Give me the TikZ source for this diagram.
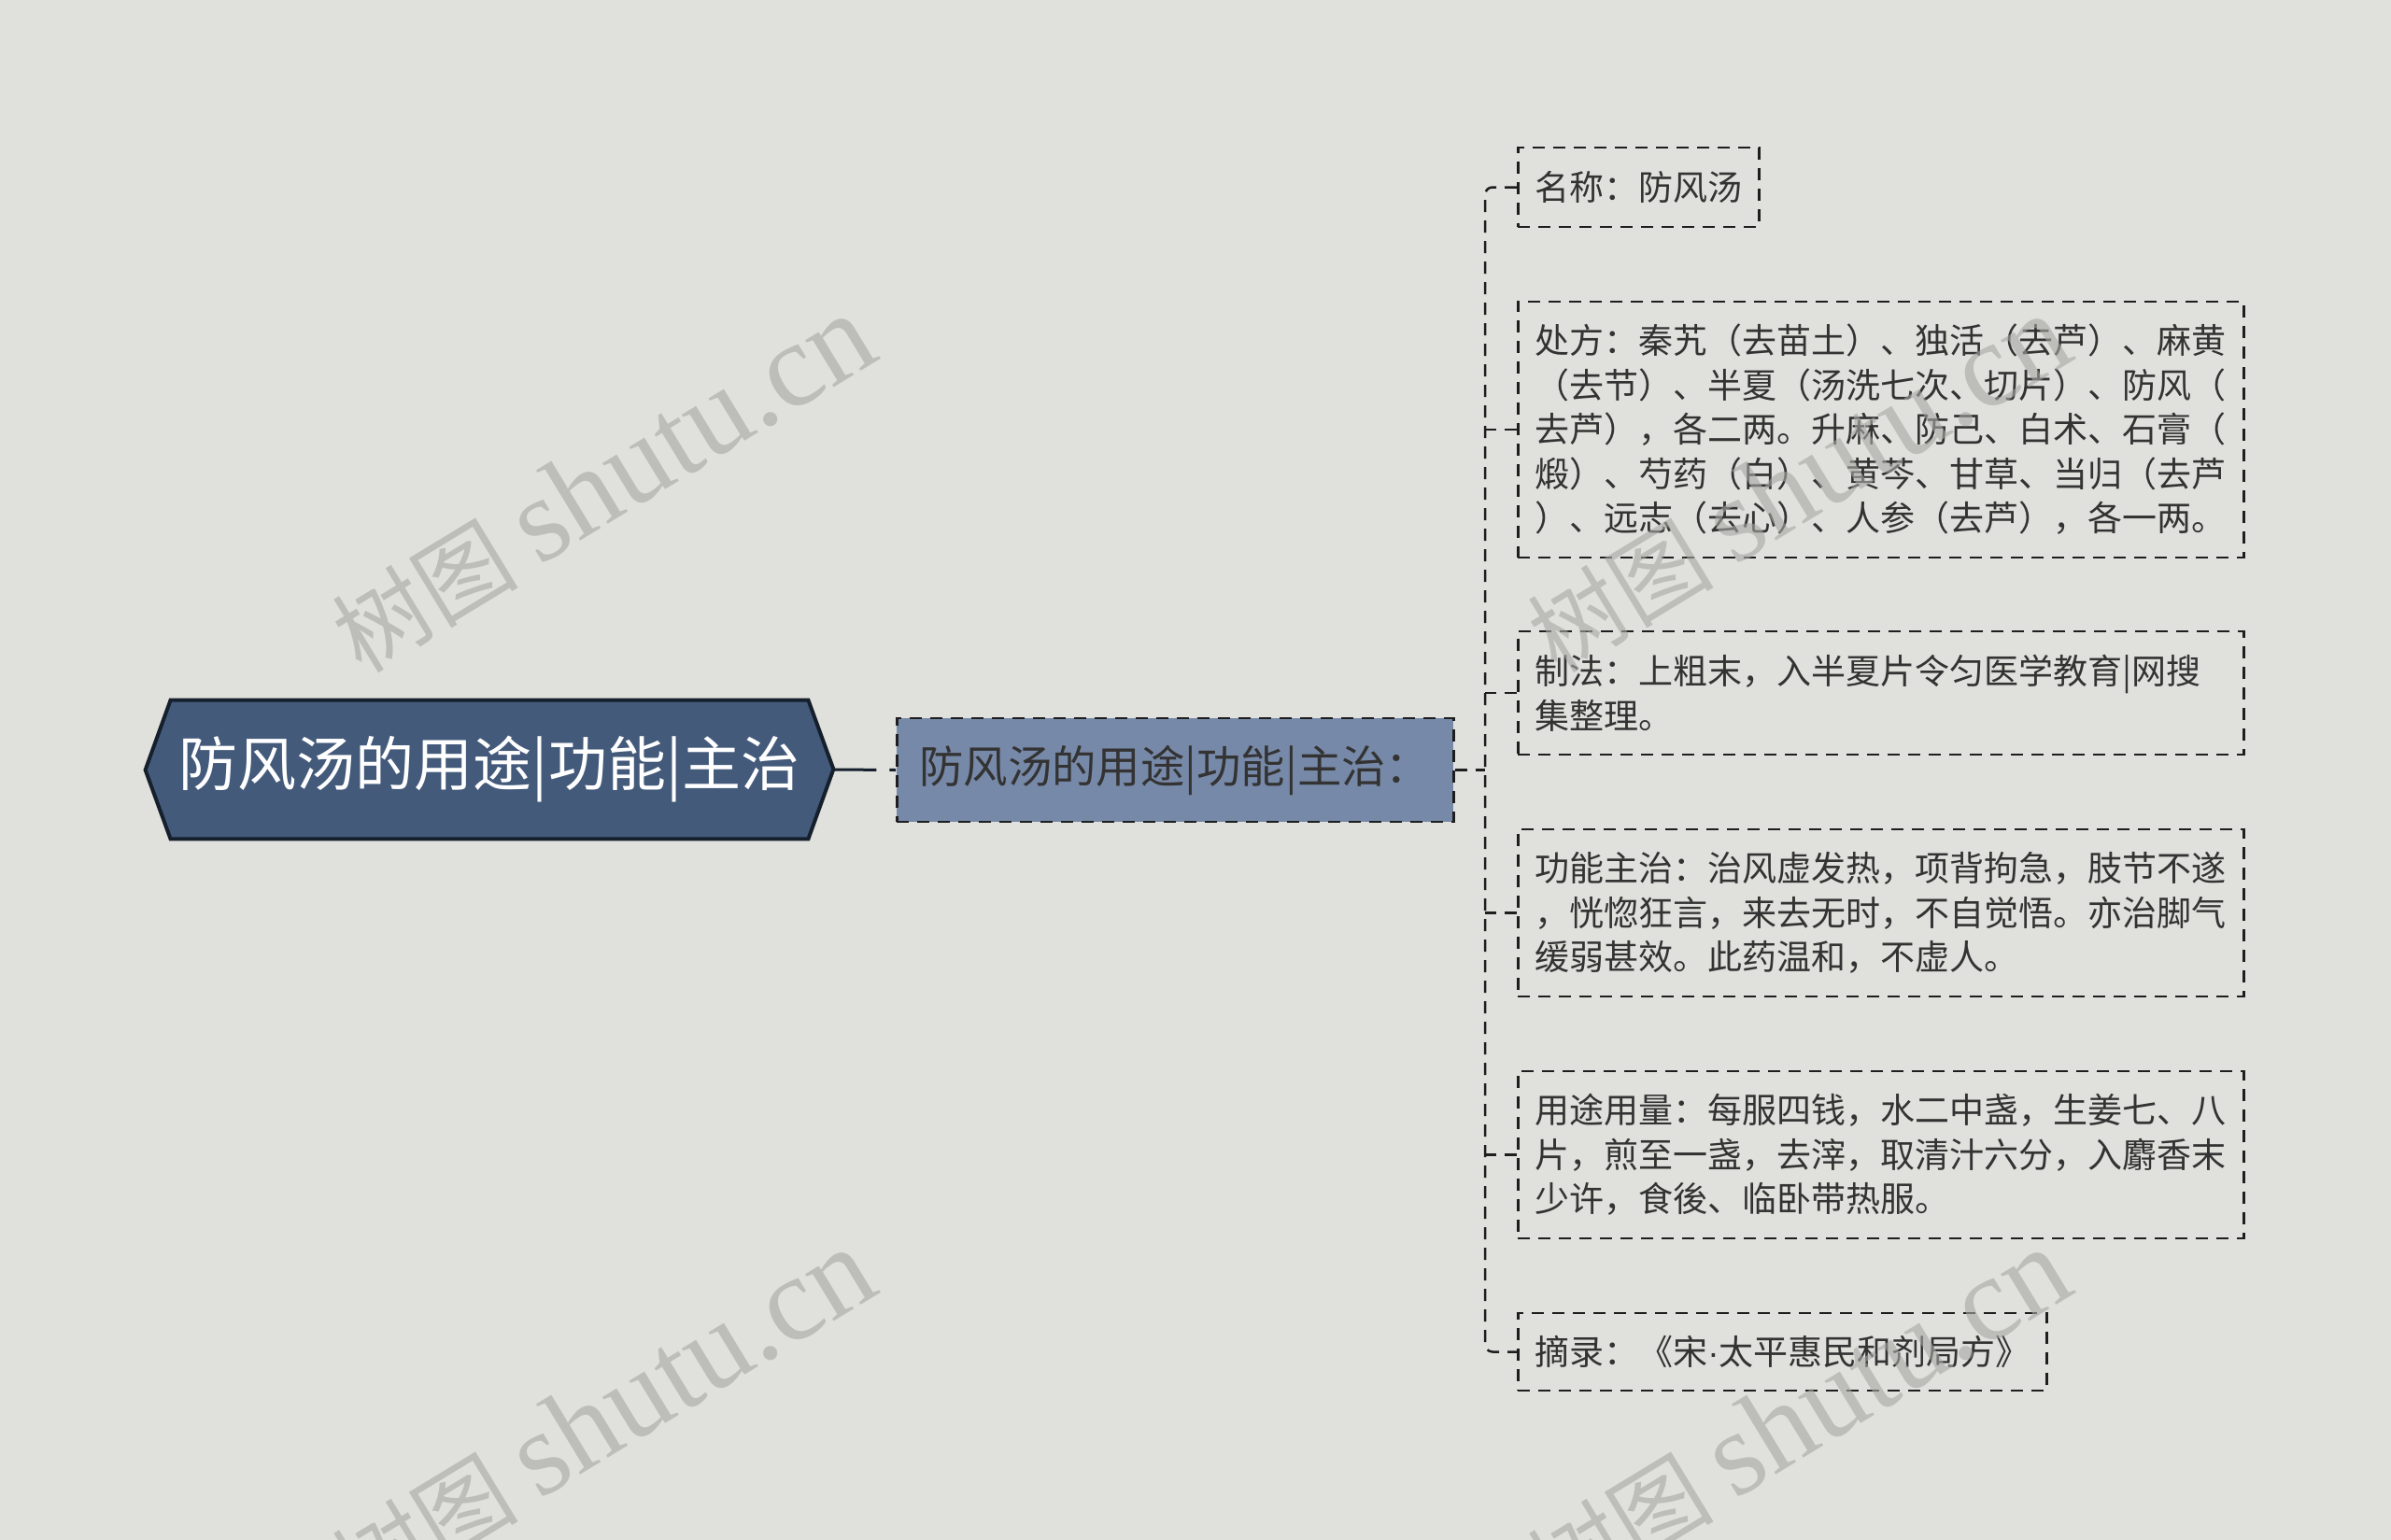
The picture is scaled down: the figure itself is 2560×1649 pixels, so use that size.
\documentclass[tikz,border=0pt]{standalone}
\usepackage{fontspec}
\setmainfont{Noto Sans CJK SC}
\newfontfamily\wmlat{Liberation Serif}
\newfontfamily\latsans{Liberation Sans}
\definecolor{bgc}{HTML}{E0E1DC}
\definecolor{rootfill}{HTML}{435A7B}
\definecolor{rootline}{HTML}{16202D}
\definecolor{childfill}{HTML}{7789A8}
\definecolor{linec}{HTML}{1E1E1E}
\definecolor{txt}{HTML}{333333}
\definecolor{wm}{HTML}{A7A8A3}
\pgfdeclarelayer{bglayer}
\pgfsetlayers{bglayer,main}
\begin{document}
\begin{tikzpicture}[x=0.5pt,y=-0.5pt,
 conn/.style={draw=linec, line width=1.25pt, dash pattern=on 6.5pt off 4.5pt},
 leaf/.style={draw=linec, line width=1.25pt, dash pattern=on 6.5pt off 4.5pt, anchor=west,
   inner xsep=9pt, inner ysep=0pt, align=left, text=txt,
   font=\fontsize{18.5pt}{23.75pt}\selectfont},
 wide/.style={text width=370.5pt},
 rootbox/.style={minimum width=341pt, minimum height=74pt, inner sep=0pt, text=white,
   font=\fontsize{31.5pt}{36pt}\selectfont},
 childbox/.style={draw=linec, line width=1.25pt, dash pattern=on 6.5pt off 4.5pt,
   fill=childfill, anchor=west, minimum height=55.5pt, text width=274pt, inner xsep=12pt,
   inner ysep=0pt, align=left, text=txt, font=\fontsize{23.7pt}{26pt}\selectfont},
 wmark/.style={text=wm, text opacity=0.6, rotate=31.3, inner sep=0pt,
   font=\fontsize{50pt}{62pt}\selectfont}
]
\useasboundingbox (0,0) rectangle (2560,1649);

% root
\node[rootbox] (root) at (524,824) {防风汤的用途|功能|主治};
\begin{pgfonlayer}{bglayer}
\fill[bgc] (0,0) rectangle (2560,1649);
\filldraw[fill=rootfill, draw=rootline, line width=2pt, line join=miter]
  (root.north west) -- (root.north east) -- ++(27,74) -- (root.south east)
  -- (root.south west) -- ++(-27,-74) -- cycle;
\end{pgfonlayer}

% child
\node[childbox] (child) at (959,824.5) {防风汤的用途|功能|主治：};
\coordinate (tip) at ([xshift=13.5pt]root.east);
\draw[draw=rootline, line width=1.5pt, dash pattern=on 23pt off 7pt on 20pt] (tip) -- (child.west);

% leaves
\node[leaf, minimum height=42.5pt] (b1) at (1624,200.5) {名称：防风汤};
\node[leaf, wide, minimum height=137pt] (b2) at (1624,460) {处方：秦艽（去苗土）、独活（去芦）、麻黄\\（去节）、半夏（汤洗七次、切片）、防风（\\去芦），各二两。升麻、防己、白术、石膏（\\煅）、芍药（白）、黄芩、甘草、当归（去芦\\）、远志（去心）、人参（去芦），各一两。};
\node[leaf, wide, minimum height=66pt] (b3) at (1624,742) {制法：上粗末，入半夏片令匀医学教育|网搜\\集整理。};
\node[leaf, wide, minimum height=89.5pt] (b4) at (1624,977.5) {功能主治：治风虚发热，项背拘急，肢节不遂\\，恍惚狂言，来去无时，不自觉悟。亦治脚气\\缓弱甚效。此药温和，不虚人。};
\node[leaf, wide, minimum height=89.5pt] (b5) at (1624,1236.5) {用途用量：每服四钱，水二中盏，生姜七、八\\片，煎至一盏，去滓，取清汁六分，入麝香末\\少许，食後、临卧带热服。};
\node[leaf, minimum height=41.5pt] (b6) at (1624,1447.5) {摘录：《宋{\latsans ·}太平惠民和剂局方》};

% spine
\coordinate (sp) at (1590,824.5);
\draw[conn] (child.east) -- (sp);
\draw[conn, rounded corners=4pt] (b1.west) -| (sp) |- (b6.west);
\foreach \b in {b2,b3,b4,b5} { \draw[conn] (\b.west) -- (\b.west -| sp); }

% watermarks
\node[wmark] (wm1) at (645,518) {树图 {\wmlat\fontsize{64pt}{64pt}\selectfont shutu.cn}};
\node[wmark] (wm2) at (645,1518) {树图 {\wmlat\fontsize{64pt}{64pt}\selectfont shutu.cn}};
\node[wmark] (wm3) at (1925,518) {树图 {\wmlat\fontsize{64pt}{64pt}\selectfont shutu.cn}};
\node[wmark] (wm4) at (1925,1518) {树图 {\wmlat\fontsize{64pt}{64pt}\selectfont shutu.cn}};
\end{tikzpicture}
\end{document}
